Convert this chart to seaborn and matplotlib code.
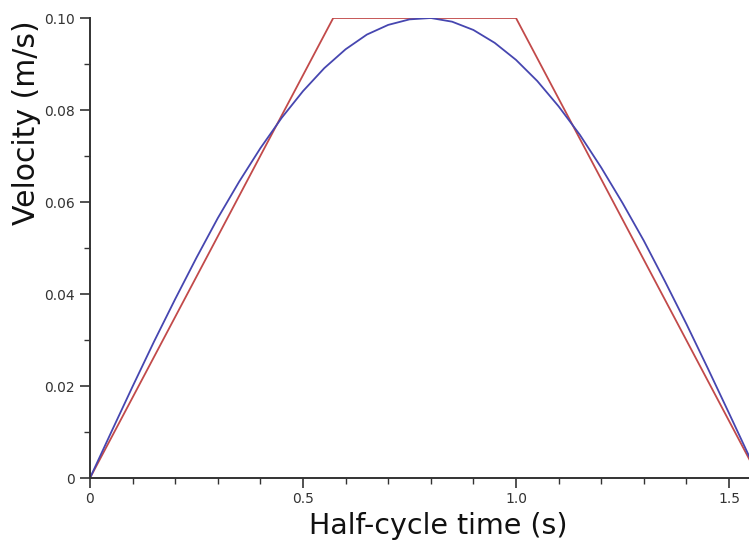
import matplotlib
matplotlib.use("Agg")
import matplotlib.pyplot as plt
import seaborn as sns
import pandas as pd
from matplotlib.ticker import MultipleLocator, FixedLocator

# Sinusoidal velocity profile (blue)
sine_t = [0.00, 0.05, 0.10, 0.15, 0.20, 0.25, 0.30, 0.35, 0.40, 0.45, 0.50,
          0.55, 0.60, 0.65, 0.70, 0.75, 0.80, 0.85, 0.90, 0.95, 1.00, 1.05,
          1.10, 1.15, 1.20, 1.25, 1.30, 1.35, 1.40, 1.45, 1.50, 1.55, 1.57]
sine_v = [0.0000, 0.0100, 0.0199, 0.0296, 0.0389, 0.0479, 0.0565, 0.0644,
          0.0717, 0.0783, 0.0841, 0.0891, 0.0932, 0.0964, 0.0985, 0.0997,
          0.1000, 0.0992, 0.0974, 0.0946, 0.0909, 0.0863, 0.0808, 0.0746,
          0.0675, 0.0598, 0.0516, 0.0427, 0.0335, 0.0239, 0.0141, 0.0042,
          0.0000]

# Trapezoidal velocity profile (red)
trap_t = [0.0, 0.571, 1.0, 1.571]
trap_v = [0.0, 0.1, 0.1, 0.0]

x_ticks = [0, 0.5, 1.0, 1.5]
x_tick_labels = ["0", "0.5", "1.0", "1.5"]
y_ticks = [0, 0.02, 0.04, 0.06, 0.08, 0.10]
y_tick_labels = ["0", "0.02", "0.04", "0.06", "0.08", "0.10"]

sns.set_theme(style="white")
plt.rcParams["font.family"] = ["DejaVu Sans"]

fig = plt.figure(figsize=(7.49, 5.43), dpi=100)
ax = fig.add_axes([90 / 749, 65 / 543, 659 / 749, 460 / 543])

df_sine = pd.DataFrame({"t": sine_t, "v": sine_v})
df_trap = pd.DataFrame({"t": trap_t, "v": trap_v})

sns.lineplot(data=df_trap, x="t", y="v", ax=ax, color="#c24a4a",
             linewidth=1.3, estimator=None, sort=False)
sns.lineplot(data=df_sine, x="t", y="v", ax=ax, color="#4646b0",
             linewidth=1.3, estimator=None, sort=False)

ax.set_xlim(0, 1.547)
ax.set_ylim(0, 0.1)

ax.xaxis.set_major_locator(FixedLocator(x_ticks))
ax.set_xticklabels(x_tick_labels)
ax.xaxis.set_minor_locator(MultipleLocator(0.1))
ax.yaxis.set_major_locator(FixedLocator(y_ticks))
ax.set_yticklabels(y_tick_labels)
ax.yaxis.set_minor_locator(MultipleLocator(0.01))

for s in ["top", "right"]:
    ax.spines[s].set_visible(False)
for s in ["left", "bottom"]:
    ax.spines[s].set_color("#333333")
    ax.spines[s].set_linewidth(1.4)

ax.tick_params(which="major", direction="out", length=7, width=1.2,
               color="#333333", labelsize=10, labelcolor="#333333",
               left=True, bottom=True)
ax.tick_params(which="minor", direction="out", length=4, width=1.0,
               color="#333333", left=True, bottom=True)
ax.tick_params(axis="x", which="major", pad=3)
ax.tick_params(axis="y", which="major", pad=4)

ax.set_xlabel("Half-cycle time (s)", fontsize=20.5, color="#111111",
              va="center", ha="center")
ax.xaxis.set_label_coords(0.529, -0.104)
ax.set_ylabel("Velocity (m/s)", fontsize=21.5, color="#111111",
              va="center", ha="center")
ax.yaxis.set_label_coords(-0.0956, 0.772)

ax.grid(False)
ax.patch.set_facecolor("white")
fig.patch.set_facecolor("white")

fig.savefig("out.png", dpi=100, facecolor="white")
